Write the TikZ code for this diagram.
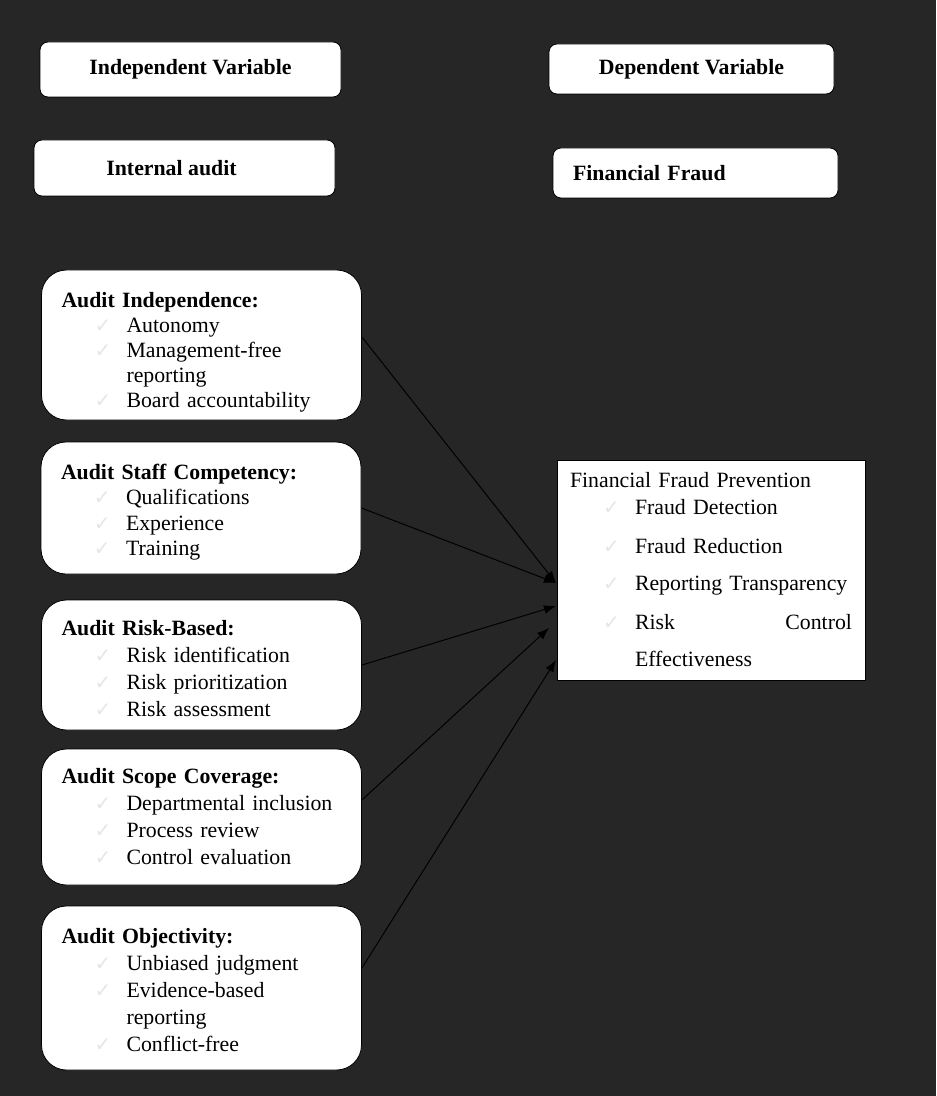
\documentclass[tikz,border=0pt]{standalone}
\usepackage{fontspec}
\setmainfont{Liberation Serif}
\newfontfamily\tickfont{DejaVu Sans}
\usetikzlibrary{arrows.meta}

\definecolor{bgdark}{HTML}{262626}
\definecolor{tickgray}{HTML}{E6E6E6}

\newcommand{\tick}{\hspace*{16.5pt}\makebox[16pt][l]{\tickfont\fontsize{10}{10}\selectfont\color{tickgray}✓}}
\newcommand{\cont}{\hspace*{32.5pt}}
% bold heading of a box, with some room above it
\newcommand{\dimtitle}[2][0pt]{\raisebox{0pt}[\dimexpr\height+#1\relax][\depth]{\textbf{#2}}}

\tikzset{
    headbox/.style={draw=black, fill=white, rounded corners=4pt, line width=0.4pt,
        font=\fontsize{10.9}{12.5}\selectfont\bfseries},
    dimbox/.style={draw=black, fill=white, rounded corners=12.5pt, line width=0.4pt,
        minimum width=160pt, text width=140pt, inner xsep=10pt, align=left,
        font=\fontsize{10.9}{#1}\selectfont},
    link/.style={-{Latex[length=6pt,width=4.5pt]}, line width=0.5pt, black},
}

\begin{document}
\begin{tikzpicture}[x=0.5pt, y=-0.5pt]

        \fill[bgdark] (0, 0) rectangle (936, 1096);

        % variable headings
        \node[headbox, minimum width=150.5pt, minimum height=27.5pt] (iv) at (190.5, 69.5) {Independent Variable};
        \node[headbox, minimum width=142.5pt, minimum height=25pt]   (dv) at (691.5, 69)   {Dependent Variable};
        \node[headbox, minimum width=150.5pt, minimum height=28pt]   (ia) at (184.5, 168)  {Internal audit\hspace*{13pt}};
        \node[headbox, minimum width=142.5pt, minimum height=25pt, text width=122.5pt, inner xsep=10pt, align=left]
            (ff) at (695.5, 173) {Financial Fraud};

        % dimensions of the internal audit
        \node[dimbox=12.5, minimum height=75pt] (b1) at (201.5, 345) {%
            \dimtitle[7pt]{Audit Independence:}\\
            \tick Autonomy\\
            \tick Management-free\\
            \cont reporting\\
            \tick Board accountability};
        \node[dimbox=12.7, minimum height=66pt] (b2) at (201, 508) {%
            \dimtitle[4pt]{Audit Staff Competency:}\\
            \tick Qualifications\\
            \tick Experience\\
            \tick Training};
        \node[dimbox=13.5, minimum height=65pt] (b3) at (201.5, 665) {%
            \dimtitle[4pt]{Audit Risk-Based:}\\
            \tick Risk identification\\
            \tick Risk prioritization\\
            \tick Risk assessment};
        \node[dimbox=13.5, minimum height=68pt] (b4) at (201.5, 817) {%
            \dimtitle{Audit Scope Coverage:}\\
            \tick Departmental inclusion\\
            \tick Process review\\
            \tick Control evaluation};
        \node[dimbox=13.5, minimum height=82pt] (b5) at (201.5, 988) {%
            \dimtitle[2pt]{Audit Objectivity:}\\
            \tick Unbiased judgment\\
            \tick Evidence-based\\
            \cont reporting\\
            \tick Conflict-free};

        % financial fraud prevention
        \node[dimbox=13.5, rounded corners=0pt, minimum width=154pt, text width=141pt, inner xsep=6.5pt,
            minimum height=110pt] (ffp) at (711, 570) {%
            Financial Fraud Prevention\\
            \tick Fraud Detection\\[6pt]
            \tick Fraud Reduction\\[5pt]
            \tick Reporting Transparency\\[6pt]
            \tick Risk\hfill Control\\[5pt]
            \cont Effectiveness};

        \coordinate (t1) at (556, 583);
        \coordinate (t3) at (556, 606);
        \coordinate (t4) at (549, 628);
        \coordinate (t5) at (556, 660);

        \draw[link] ([yshift=4pt]b1.east)  -- (t1);
        \draw[link] (b2.east)              -- (t1);
        \draw[link] (b3.east)              -- (t3);
        \draw[link] ([yshift=8.5pt]b4.east) -- (t4);
        \draw[link] ([yshift=10pt]b5.east) -- (t5);

    \end{tikzpicture}
\end{document}
